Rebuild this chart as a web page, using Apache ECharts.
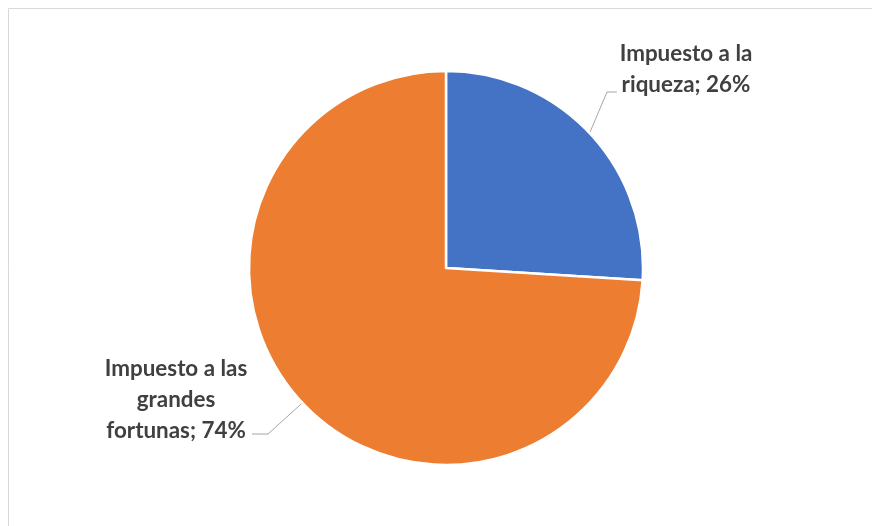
<!DOCTYPE html>
<html>
<head>
<meta charset="utf-8">
<script src="https://cdn.jsdelivr.net/npm/echarts@6/dist/echarts.min.js"></script>
<style>
html,body{margin:0;padding:0;background:#fff;}
#chart{width:872px;height:526px;}
</style>
</head>
<body>
<div id="chart"></div>
<script>
const categories = ["Impuesto a la\nriqueza", "Impuesto a las\ngrandes\nfortunas"];
const values = [26, 74];
const colors = ["#4472C4", "#ED7D31"];

// label placement (layout only)
const labelPos = [
  {x: 686, y: 69, bend: [607, 92], end: [617, 92]},
  {x: 176, y: 400, bend: [268, 434], end: [252, 434]}
];

const chart = echarts.init(document.getElementById('chart'), null, {renderer: 'canvas'});
chart.setOption({
  animation: false,
  graphic: [{
    type: 'rect',
    shape: {x: 8.5, y: 8.5, width: 900, height: 600},
    style: {fill: 'none', stroke: '#D9D9D9', lineWidth: 1},
    silent: true
  }],
  series: [{
    type: 'pie',
    center: [446, 268],
    radius: [0, 197],
    startAngle: 90,
    clockwise: true,
    itemStyle: {borderColor: '#fff', borderWidth: 2.5},
    label: {
      show: true,
      position: 'outside',
      formatter: p => p.name + '; ' + p.value + '%',
      fontFamily: 'Lato',
      fontWeight: 'bold',
      fontSize: 22.4,
      lineHeight: 31,
      color: '#404040',
      align: 'center'
    },
    labelLine: {show: true, lineStyle: {color: '#A6A6A6', width: 1}},
    labelLayout: function (params) {
      const lp = labelPos[params.dataIndex];
      const p0 = params.labelLinePoints ? params.labelLinePoints[0] : lp.bend;
      return {
        x: lp.x, y: lp.y, align: 'center', verticalAlign: 'middle',
        labelLinePoints: [p0, lp.bend, lp.end]
      };
    },
    data: categories.map((c, i) => ({name: c, value: values[i], itemStyle: {color: colors[i]}}))
  }]
});
</script>
</body>
</html>
